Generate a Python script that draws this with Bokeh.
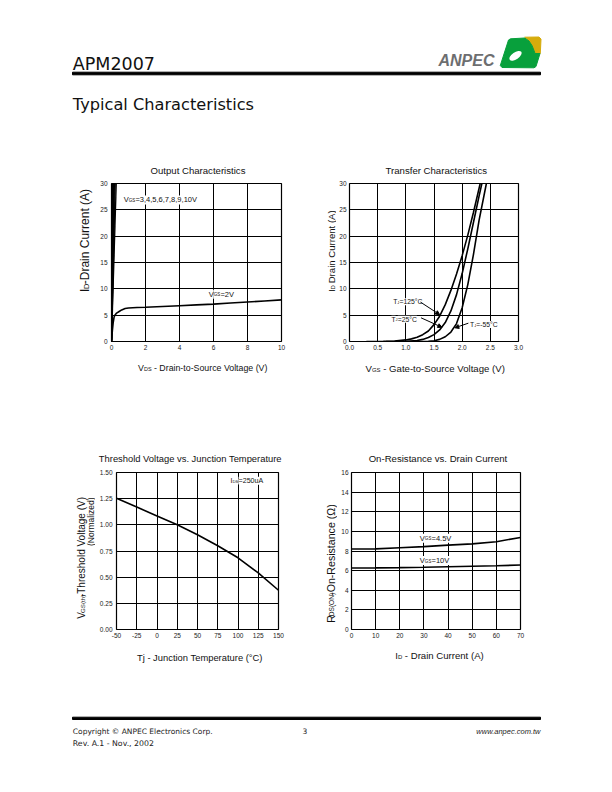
import math
from bokeh.plotting import figure
from bokeh.layouts import column, row
from bokeh.models import Range1d, FixedTicker, PrintfTickFormatter, Label, Arrow, NormalHead
from bokeh.core.properties import value
from bokeh.embed import file_html
from bokeh.resources import INLINE

# ---------------- data ----------------
# Output characteristics
out_vgs_steep = [3, 4, 5, 6, 7, 8, 9, 10]
out_vds_at_30a = [0.28, 0.22, 0.17, 0.13, 0.10, 0.08, 0.06, 0.04]
out_id_span = [0, 30]
out_vds_2v = [0, 0.05, 0.1, 0.15, 0.2, 0.3, 0.45, 0.6, 0.8, 1.0, 1.5, 2, 3, 4, 5, 6, 7, 8, 9, 10]
out_id_2v = [0, 2.0, 3.6, 4.6, 5.0, 5.4, 5.7, 6.0, 6.25, 6.35, 6.45, 6.5, 6.65, 6.8, 6.95, 7.1, 7.3, 7.5, 7.7, 7.9]
out_x_ticks = [0, 2, 4, 6, 8, 10]
out_y_ticks = [0, 5, 10, 15, 20, 25, 30]

# Transfer characteristics
tr_vgs_125 = [0.3, 0.6, 0.8, 1.0, 1.1, 1.2, 1.3, 1.4, 1.5, 1.6, 1.7, 1.8, 1.9, 2.0, 2.1, 2.2, 2.32]
tr_id_125 = [0, 0.03, 0.1, 0.3, 0.5, 0.8, 1.3, 2.0, 3.2, 4.8, 7.0, 9.7, 12.8, 16.3, 20.2, 24.5, 30]
tr_vgs_25 = [0.65, 1.0, 1.2, 1.3, 1.4, 1.5, 1.6, 1.7, 1.8, 1.9, 2.0, 2.1, 2.2, 2.3, 2.35]
tr_id_25 = [0, 0.05, 0.2, 0.4, 0.75, 1.3, 2.2, 3.6, 5.8, 8.9, 12.9, 17.6, 22.6, 27.6, 30]
tr_vgs_m55 = [1.2, 1.4, 1.5, 1.6, 1.7, 1.8, 1.9, 2.0, 2.1, 2.2, 2.3, 2.43]
tr_id_m55 = [0, 0.05, 0.15, 0.4, 0.9, 1.8, 3.4, 6.4, 10.8, 16.5, 23.0, 30]
tr_x_ticks = [0, 0.5, 1.0, 1.5, 2.0, 2.5, 3.0]
tr_y_ticks = [0, 5, 10, 15, 20, 25, 30]

# Threshold voltage vs junction temperature
th_tj = [-50, -25, 0, 25, 50, 75, 100, 125, 150]
th_vth = [1.255, 1.17, 1.085, 1.0, 0.905, 0.80, 0.685, 0.54, 0.375]
th_x_ticks = [-50, -25, 0, 25, 50, 75, 100, 125, 150]
th_y_ticks = [0, 0.25, 0.5, 0.75, 1.0, 1.25, 1.5]

# On-resistance vs drain current
ron_id = [0, 10, 20, 30, 40, 50, 60, 70]
ron_vgs45 = [8.2, 8.22, 8.33, 8.45, 8.6, 8.73, 8.95, 9.38]
ron_vgs10 = [6.27, 6.28, 6.31, 6.35, 6.4, 6.45, 6.5, 6.57]
ron_x_ticks = [0, 10, 20, 30, 40, 50, 60, 70]
ron_y_ticks = [0, 2, 4, 6, 8, 10, 12, 14, 16]

# ---------------- helpers ----------------
FONT = "Liberation Sans"
WIDE = "DejaVu Sans"
PH = 792.0
AW = {' ': 278, '!': 278, '(': 333, ')': 333, ',': 278, '-': 333, '.': 278, '/': 278,
      '=': 584, '°': 400, '©': 737, 'Ω': 768, ':': 278,
      'A': 667, 'B': 667, 'C': 722, 'D': 722, 'E': 667, 'F': 611, 'G': 778, 'H': 722, 'I': 278,
      'J': 500, 'K': 667, 'L': 556, 'M': 833, 'N': 722, 'O': 778, 'P': 667, 'Q': 778, 'R': 722,
      'S': 667, 'T': 611, 'U': 722, 'V': 667, 'W': 944, 'X': 667, 'Y': 667, 'Z': 611,
      'a': 556, 'b': 556, 'c': 500, 'd': 556, 'e': 556, 'f': 278, 'g': 556, 'h': 556, 'i': 222,
      'j': 222, 'k': 500, 'l': 222, 'm': 833, 'n': 556, 'o': 556, 'p': 556, 'q': 556, 'r': 333,
      's': 500, 't': 278, 'u': 556, 'v': 500, 'w': 722, 'x': 500, 'y': 500, 'z': 500}
SUB = 0.62


def tw(s):
    return sum(AW.get(c, 556) for c in s) / 1000.0


def Y(py):
    return PH - py


def strip(x0, y0, x1, y1):
    f = figure(width=int(x1 - x0), height=int(y1 - y0), x_range=Range1d(x0, x1),
               y_range=Range1d(Y(y1), Y(y0)), x_axis_type=None, y_axis_type=None,
               toolbar_location=None, output_backend="svg", min_border=0,
               outline_line_color=None)
    return f


def page_text(f, parts, cx, cy, size, anchor="center", rotate=False, color="#111111"):
    """Draw (possibly subscripted) text in a strip figure whose data units are page pixels."""
    ws = [tw(t) * size * (SUB if sub else 1.0) for t, sub in parts]
    total = sum(ws)
    pos = {"left": 0.0, "center": -total / 2.0, "right": -total}[anchor]
    for (t, sub), w in zip(parts, ws):
        fs = size * SUB if sub else size
        lead = len(t) - len(t.lstrip(" "))
        p0 = pos + lead * 0.278 * fs
        drop = 0.36 * size + (0.10 * size if sub else 0.0)
        if rotate:
            px, py, ang = cx + drop, cy - p0, math.pi / 2
        else:
            px, py, ang = cx + p0, cy + drop, 0.0
        f.text(x=[px], y=[Y(py)], text=[t.lstrip(" ")], angle=ang, text_font=value(FONT),
               text_font_size=f"{fs:.2f}px", text_color=color,
               text_baseline="alphabetic", text_align="left")
        pos += w


def rich(p, parts, x, y, size, color="#111111", bg="white"):
    """In-plot annotation label at data position (left, vertical centre)."""
    ws = [tw(t) * size * (SUB if sub else 1.0) for t, sub in parts]
    pos = 0.0
    for (t, sub), w in zip(parts, ws):
        fs = size * SUB if sub else size
        yo = -(0.36 * size + (0.10 * size if sub else 0.0))
        p.add_layout(Label(x=x, y=y, x_offset=pos, y_offset=yo, text=t, text_font=FONT,
                           text_font_size=f"{fs:.2f}px", text_color=color,
                           text_baseline="alphabetic", text_align="left",
                           background_fill_color=bg))
        pos += w


def chart(width, height, left, right, top, bottom, xr, yr, xt, yt, xf, yf, ystand=4):
    p = figure(width=width, height=height, x_range=Range1d(*xr), y_range=Range1d(*yr),
               output_backend="svg", toolbar_location=None,
               min_border_left=left, min_border_right=right,
               min_border_top=top, min_border_bottom=bottom)
    p.outline_line_color = "black"
    p.outline_line_width = 1.2
    p.outline_line_alpha = 1.0
    for ax, ticks, fmt, st in ((p.xaxis[0], xt, xf, 3), (p.yaxis[0], yt, yf, ystand)):
        ax.ticker = FixedTicker(ticks=ticks)
        ax.formatter = PrintfTickFormatter(format=fmt)
        ax.axis_line_color = None
        ax.major_tick_line_color = None
        ax.minor_tick_line_color = None
        ax.major_tick_out = 0
        ax.major_tick_in = 0
        ax.major_label_text_font = FONT
        ax.major_label_text_font_size = "6.5px"
        ax.major_label_text_color = "#222222"
        ax.major_label_standoff = st
    p.grid.grid_line_color = "black"
    p.grid.grid_line_width = 1
    p.grid.grid_line_alpha = 1.0
    return p


# ---------------- chart 1: output characteristics ----------------
p1 = chart(205, 180, 16, 19, 7, 15, (0, 10), (0, 30), out_x_ticks, out_y_ticks, "%d", "%d")
p1.multi_line(xs=[[0, v] for v in out_vds_at_30a], ys=[out_id_span for _ in out_vgs_steep],
              line_color="black", line_width=1.3)
p1.line(out_vds_2v, out_id_2v, line_color="black", line_width=1.6)
rich(p1, [("V", False), ("GS", True), ("=3,4,5,6,7,8,9,10V", False)], 0.72, 27.4, 7.5)
rich(p1, [("V", False), ("GS", True), ("=2V", False)], 5.72, 9.5, 7.5)

# ---------------- chart 2: transfer characteristics ----------------
p2 = chart(274, 180, 13, 92, 7, 15, (0, 3), (0, 30), tr_x_ticks, tr_y_ticks, "%.1f", "%d", ystand=3)
p2.line(tr_vgs_125, tr_id_125, line_color="black", line_width=1.6)
p2.line(tr_vgs_25, tr_id_25, line_color="black", line_width=1.6)
p2.line(tr_vgs_m55, tr_id_m55, line_color="black", line_width=1.6)
rich(p2, [("T", False), ("J", True), ("=125°C", False)], 0.775, 8.0, 6.8)
rich(p2, [("T", False), ("J", True), ("=25°C", False)], 0.745, 4.7, 6.8)
rich(p2, [("T", False), ("J", True), ("=-55°C", False)], 2.14, 3.67, 6.8)
for xs_, ys_, xe_, ye_ in ((1.26, 7.48, 1.6, 5.1), (1.27, 4.5, 1.64, 2.7), (2.11, 3.48, 1.87, 2.6)):
    p2.add_layout(Arrow(end=NormalHead(size=4, fill_color="black", line_color="black"),
                        x_start=xs_, y_start=ys_, x_end=xe_, y_end=ye_,
                        line_color="black", line_width=1))

# ---------------- chart 3: threshold voltage ----------------
p3 = chart(205, 180, 21, 22, 7, 16, (-50, 150), (0, 1.5), th_x_ticks, th_y_ticks, "%d", "%.2f")
p3.line(th_tj, th_vth, line_color="black", line_width=1.6)
rich(p3, [("I", False), ("DS", True), ("=250uA", False)], 90.7, 1.445, 7.1)

# ---------------- chart 4: on-resistance ----------------
p4 = chart(273, 180, 14, 90, 7, 16, (0, 70), (0, 16), ron_x_ticks, ron_y_ticks, "%d", "%d", ystand=3)
p4.line(ron_id, ron_vgs45, line_color="black", line_width=1.6)
p4.line(ron_id, ron_vgs10, line_color="black", line_width=1.6)
rich(p4, [("V", False), ("GS", True), ("=4.5V", False)], 28.3, 9.58, 7.5)
rich(p4, [("V", False), ("GS", True), ("=10V", False)], 28.3, 7.3, 7.5)

# ---------------- header strip (page y 0..176) ----------------
hd = strip(0, 0, 610, 176)
hd.text(x=[72.3], y=[Y(63.3)], text=["APM2007"], text_font=value(WIDE), text_font_size="17.5px",
        text_baseline="alphabetic", text_color="#111111")
hd.quad(left=[72], right=[540], top=[Y(71.7)], bottom=[Y(74.3)], color="black")
hd.text(x=[72.3], y=[Y(104)], text=["Typical Characteristics"], text_font=value(WIDE),
        text_font_size="16.2px", text_baseline="alphabetic", text_color="#111111")
gold_x = [524.3, 538.5, 540.5, 539.8, 534.5, 533.5, 531.5, 528.5]
gold_y = [36.7, 36.5, 38.5, 53, 53, 50, 45, 40.5]
green_x = [510, 524.3, 528.5, 531.5, 533.5, 534.5, 539.5, 535.5, 533.5, 501.5, 499.8, 508]
green_y = [38.3, 37.5, 40.5, 45, 50, 53, 53, 66, 67.3, 67, 65, 39.5]
hd.patch(gold_x, [Y(v) for v in gold_y], color="#d6ac0c")
hd.patch(green_x, [Y(v) for v in green_y], color="#08a03c")
hd.ellipse(x=[515], y=[Y(55.3)], width=14, height=7, angle=0.6, fill_color="white", line_color=None)
hd.text(x=[438], y=[Y(60)], text=["ANPEC"], text_font=value(FONT), text_font_style="bold italic",
        text_font_size="16px", text_baseline="alphabetic", text_color="#6d6e70")
page_text(hd, [("Output Characteristics", False)], 197.5, 166.7, 9.6)
page_text(hd, [("Transfer Characteristics", False)], 436, 166.7, 9.6)

# ---------------- y-label strips, row 1 (page y 176..356) ----------------
yl1 = strip(0, 176, 95, 356)
page_text(yl1, [("I", False), ("D", True), ("-Drain Current (A)", False)], 80.5, 247.5, 12, rotate=True)
yl2 = strip(300, 176, 336, 356)
page_text(yl2, [("I", False), ("D", True), (" Drain Current (A)", False)], 327.8, 258, 9.6, rotate=True)

# ---------------- middle strip (page y 356..465) ----------------
md = strip(0, 356, 610, 465)
page_text(md, [("V", False), ("DS", True), (" - Drain-to-Source Voltage (V)", False)], 202.5, 364.3, 8.8)
page_text(md, [("V", False), ("GS", True), (" - Gate-to-Source Voltage (V)", False)], 435, 365, 9.6)
page_text(md, [("Threshold Voltage vs. Junction Temperature", False)], 190.8, 454.3, 9.4)
page_text(md, [("On-Resistance vs. Drain Current", False)], 437.5, 454.3, 9.6)

# ---------------- y-label strips, row 2 (page y 465..645) ----------------
yl3 = strip(0, 465, 95, 645)
page_text(yl3, [("V", False), ("GS(th)", True), ("-Threshold Voltage (V)", False)], 77, 570, 10, rotate=True)
page_text(yl3, [("(Normalized)", False)], 87.5, 525, 8.5, rotate=True)
yl4 = strip(300, 465, 337, 645)
page_text(yl4, [("R", False), ("DS(ON)", True), ("-On-Resistance (Ω)", False)], 326.5, 576, 10.6, rotate=True)

# ---------------- footer strip (page y 645..790) ----------------
ft = strip(0, 645, 610, 790)
page_text(ft, [("Tj - Junction Temperature (°C)", False)], 200, 653.3, 9.4)
page_text(ft, [("I", False), ("D", True), (" - Drain Current (A)", False)], 439, 651.7, 9.6)
ft.quad(left=[72], right=[540], top=[Y(716.7)], bottom=[Y(719)], color="black")
ft.text(x=[72.3], y=[Y(730.5)], text=["Copyright © ANPEC Electronics Corp."], text_font=value(WIDE),
        text_font_size="7.5px", text_baseline="alphabetic", text_color="#222222")
ft.text(x=[304.5], y=[Y(730.5)], text=["3"], text_font=value(WIDE), text_font_size="7.5px",
        text_baseline="alphabetic", text_align="center", text_color="#222222")
ft.text(x=[540], y=[Y(730.5)], text=["www.anpec.com.tw"], text_font=value(FONT), text_font_style="italic",
        text_font_size="7.5px", text_baseline="alphabetic", text_align="right", text_color="#222222")
ft.text(x=[72.3], y=[Y(742.5)], text=["Rev. A.1 - Nov., 2002"], text_font=value(WIDE),
        text_font_size="7.8px", text_baseline="alphabetic", text_color="#222222")

layout = column(hd, row(yl1, p1, yl2, p2), md, row(yl3, p3, yl4, p4), ft)
open("out.html", "w").write(file_html(layout, INLINE))
